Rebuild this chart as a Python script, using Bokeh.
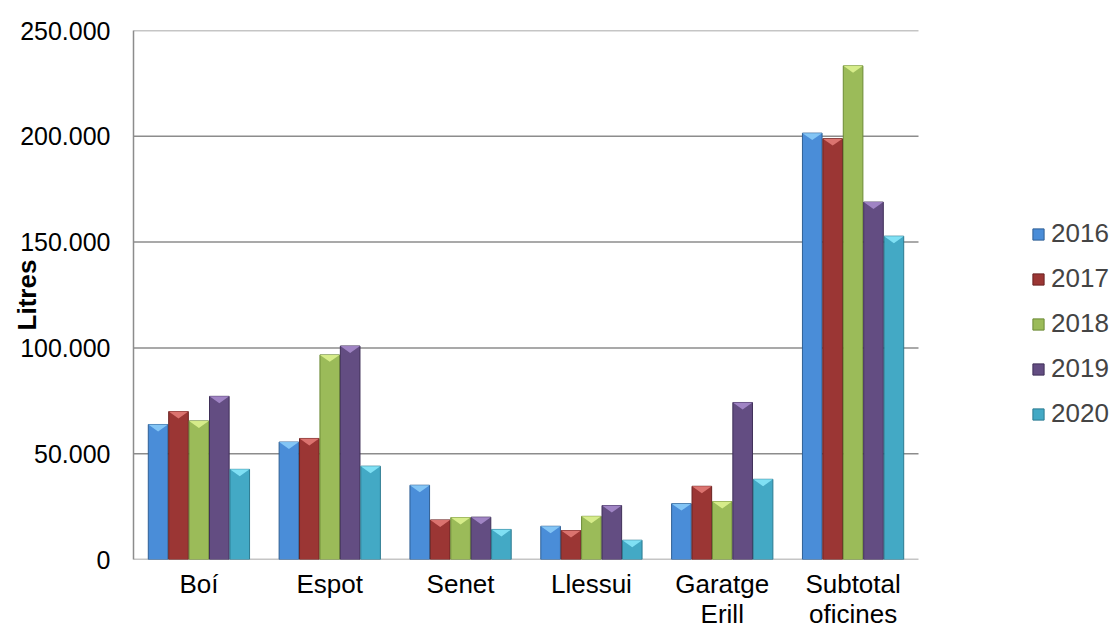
from bokeh.plotting import figure
from bokeh.models import Range1d, FixedTicker, Legend, LegendItem
from bokeh.embed import file_html
from bokeh.resources import INLINE
import numpy as np

# ---- data ----
categories = ["Boí", "Espot", "Senet", "Llessui", "Garatge\nErill", "Subtotal\noficines"]
years = ["2016", "2017", "2018", "2019", "2020"]
v2016 = [63800, 55500, 35100, 15700, 26400, 201500]
v2017 = [69900, 57200, 18700, 13700, 34600, 198900]
v2018 = [65500, 96700, 19800, 20400, 27400, 233300]
v2019 = [77100, 100900, 20000, 25500, 74200, 168900]
v2020 = [42600, 44100, 14200, 9100, 37900, 152800]
y_ticks = [0, 50000, 100000, 150000, 200000, 250000]
y_tick_labels = ["0", "50.000", "100.000", "150.000", "200.000", "250.000"]
y_axis_title = "Litres"

series = [v2016, v2017, v2018, v2019, v2020]
colors = ["#4A8DD8", "#9B3634", "#9BBB59", "#634D82", "#43A9C5"]
tops = ["#8ACBF8", "#E27A76", "#DDF28F", "#A68BCB", "#86E6F8"]
edges = ["#2F5F94", "#6A2221", "#6C8A35", "#3F2F58", "#2C7A90"]

FONT = "Liberation Sans"
n = len(categories)
# the frame extends to the right edge (legend lives inside it); the category
# area covers [0, n] which is 785 px of the 978 px frame
x_end = n * 978.0 / 785.0

p = figure(width=1111, height=631, output_backend="svg", toolbar_location=None,
           x_range=Range1d(0, x_end), y_range=Range1d(0, 250000),
           min_border_left=133, min_border_right=0, min_border_top=30,
           min_border_bottom=72)
p.outline_line_color = None
p.background_fill_color = "white"

# gridlines (and the base line) limited to the category area
p.segment(x0=[0] * len(y_ticks), x1=[n] * len(y_ticks), y0=y_ticks, y1=y_ticks,
          line_color="#8c8c8c", line_width=1.5)

centers = np.arange(n) + 0.5
pitch = 0.156
bw = 0.150
depth = 3300

items = []
for j, (vals, c, tc, ec, yr) in enumerate(zip(series, colors, tops, edges, years)):
    xs = centers + (j - 2) * pitch
    r = p.vbar(x=xs, top=vals, bottom=0, width=bw, fill_color=c,
               line_color=ec, line_width=1)
    p.patches(xs=[[x - bw / 2, x + bw / 2, x] for x in xs],
              ys=[[v, v, v - depth] for v in vals],
              fill_color=tc, line_color=None, fill_alpha=0.9)
    items.append(LegendItem(label=yr, renderers=[r]))

# axes
p.xaxis.ticker = FixedTicker(ticks=list(centers))
p.xaxis.major_label_overrides = {float(c): lab for c, lab in zip(centers, categories)}
p.yaxis.ticker = FixedTicker(ticks=y_ticks)
p.yaxis.major_label_overrides = {float(t): lab for t, lab in zip(y_ticks, y_tick_labels)}

for ax in (p.xaxis, p.yaxis):
    ax.major_tick_line_color = None
    ax.minor_tick_line_color = None
    ax.major_tick_out = 0
    ax.major_tick_in = 0
    ax.major_label_text_font = FONT
    ax.major_label_text_color = "black"

p.xaxis.axis_line_color = None
p.yaxis.axis_line_color = "#8c8c8c"
p.yaxis.axis_line_width = 1.5

p.yaxis.major_label_text_font_size = "25px"
p.yaxis.major_label_standoff = 23
p.yaxis.axis_label = y_axis_title
p.yaxis.axis_label_text_font = FONT
p.yaxis.axis_label_text_font_style = "bold"
p.yaxis.axis_label_text_font_size = "26px"
p.yaxis.axis_label_text_color = "black"
p.yaxis.axis_label_standoff = -25

p.xaxis.major_label_text_font_size = "26px"
p.xaxis.major_label_text_line_height = 1.0
p.xaxis.major_label_standoff = 9

p.xgrid.grid_line_color = None
p.ygrid.grid_line_color = None

legend = Legend(items=items, location=(898, 130), orientation="vertical",
                border_line_color=None, background_fill_alpha=0,
                padding=0, margin=0, spacing=14, label_height=30,
                glyph_height=14, glyph_width=14, label_standoff=6,
                label_text_font=FONT, label_text_font_size="26px")
p.add_layout(legend)

open("out.html", "w").write(file_html(p, INLINE))
